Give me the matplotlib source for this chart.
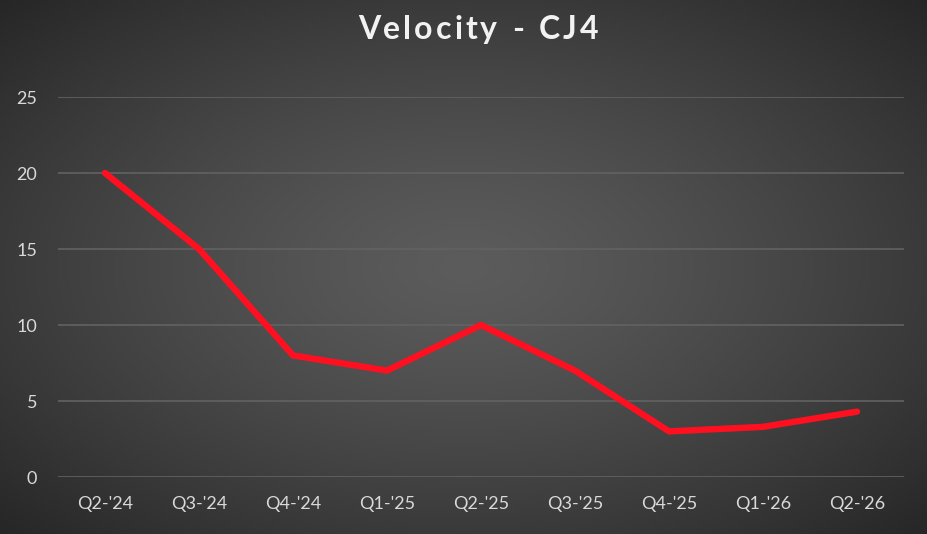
import numpy as np
import matplotlib.pyplot as plt

quarters = ["Q2-'24", "Q3-'24", "Q4-'24", "Q1-'25", "Q2-'25",
            "Q3-'25", "Q4-'25", "Q1-'26", "Q2-'26"]
velocity = [20, 15, 8, 7, 10, 7, 3, 3.3, 4.3]
y_ticks = [0, 5, 10, 15, 20, 25]
title = 'Velocity - CJ4'

plt.rcParams['font.family'] = ['Lato', 'DejaVu Sans']

W, H = 928, 534
fig = plt.figure(figsize=(W / 100, H / 100), dpi=100)

# radial gradient background
bg = fig.add_axes([0, 0, 1, 1], zorder=-10)
gx, gy = np.meshgrid(np.linspace(-1, 1, 464), np.linspace(-1, 1, 267))
r = np.sqrt(gx ** 2 + gy ** 2) / np.sqrt(2)
shade = 0.36 - 0.21 * r ** 1.3
bg.imshow(np.dstack([shade] * 3), aspect='auto', extent=[0, 1, 0, 1])
bg.axis('off')

ax = fig.add_axes([58 / W, 57 / H, 846 / W, 380 / H])
ax.patch.set_alpha(0)
x = np.arange(len(quarters))
ax.plot(x, velocity, color='#ff1020', lw=4.6, solid_capstyle='round',
        solid_joinstyle='round', zorder=3)

ax.set_xlim(-0.5, len(quarters) - 0.5)
ax.set_ylim(0, 25)
ax.set_yticks(y_ticks)
ax.set_xticks(x)
ax.set_xticklabels(quarters)
ax.grid(axis='y', color='#626262', lw=1.2)
ax.set_axisbelow(True)
for s in ax.spines.values():
    s.set_visible(False)
ax.tick_params(length=0, colors='#d9d9d9', labelsize=13)
ax.tick_params(axis='y', pad=15)
ax.tick_params(axis='x', pad=14)

# title with letter spacing, drawn one glyph at a time
renderer = fig.canvas.get_renderer()
spacing = 3.0
tkw = dict(color='#f2f2f2', fontsize=23, fontweight='bold', va='baseline', ha='left')
widths = []
for ch in title:
    t = fig.text(0, 0, ch if ch != ' ' else 'a', **tkw)
    w = t.get_window_extent(renderer).width
    if ch == ' ':
        w *= 0.55
    widths.append(w)
    t.remove()
total = sum(widths) + spacing * (len(title) - 1)
xpos = 478 - total / 2
for ch, w in zip(title, widths):
    if ch != ' ':
        fig.text(xpos / W, 1 - 39 / H, ch, **tkw)
    xpos += w + spacing

fig.savefig('out.png', dpi=100)
